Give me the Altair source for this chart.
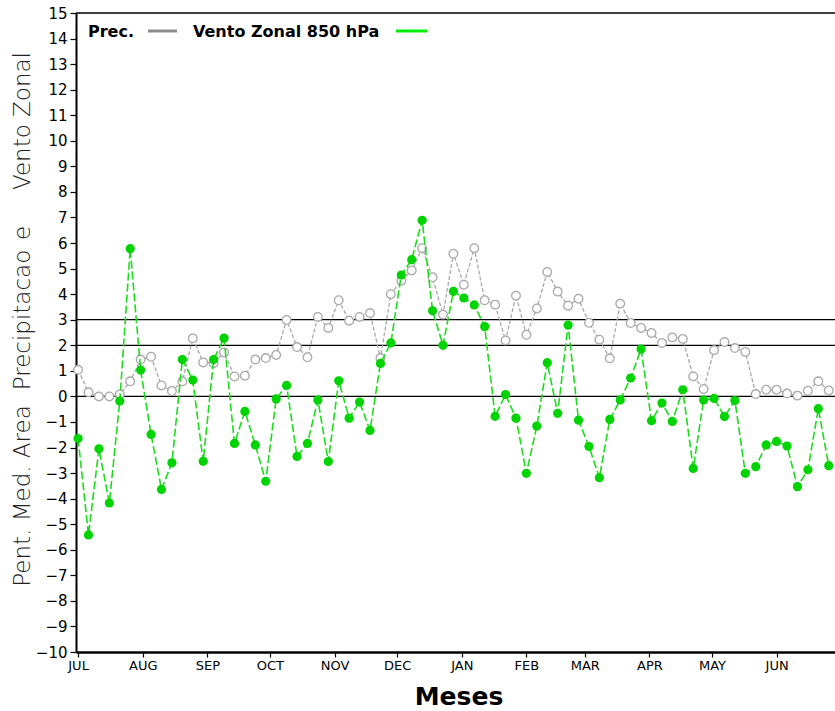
import altair as alt
import pandas as pd

# Pentad series (73 pentads, July to June)
prec = [1.04, 0.16, 0.00, 0.00, 0.08, 0.59, 1.44, 1.55, 0.43, 0.21,
        0.59, 2.27, 1.33, 1.30, 1.72, 0.78, 0.81, 1.44, 1.50, 1.62,
        2.99, 1.93, 1.53, 3.11, 2.68, 3.76, 2.96, 3.11, 3.26, 1.50,
        4.00, 4.53, 4.93, 5.80, 4.66, 3.20, 5.58, 4.37, 5.80, 3.76,
        3.59, 2.19, 3.94, 2.41, 3.44, 4.87, 4.10, 3.55, 3.82, 2.88,
        2.22, 1.49, 3.63, 2.87, 2.68, 2.48, 2.09, 2.31, 2.25, 0.78,
        0.29, 1.81, 2.13, 1.89, 1.74, 0.09, 0.26, 0.26, 0.11, 0.03,
        0.22, 0.59, 0.23]

vento = [-1.65, -5.42, -2.05, -4.17, -0.18, 5.78, 1.03, -1.49, -3.64, -2.60,
         1.44, 0.64, -2.54, 1.44, 2.28, -1.84, -0.59, -1.90, -3.32, -0.10,
         0.43, -2.35, -1.84, -0.14, -2.55, 0.61, -0.85, -0.22, -1.33, 1.29,
         2.09, 4.75, 5.35, 6.89, 3.35, 2.00, 4.11, 3.85, 3.58, 2.73,
         -0.78, 0.07, -0.85, -3.01, -1.16, 1.32, -0.66, 2.79, -0.93, -1.96,
         -3.18, -0.90, -0.14, 0.72, 1.85, -0.95, -0.26, -0.98, 0.26, -2.82,
         -0.14, -0.08, -0.79, -0.16, -3.01, -2.75, -1.90, -1.76, -1.94, -3.53,
         -2.87, -0.48, -2.71]

month_names = ["JUL", "AUG", "SEP", "OCT", "NOV", "DEC",
               "JAN", "FEB", "MAR", "APR", "MAY", "JUN"]
month_start_day = [0, 31, 62, 92, 123, 153, 184, 215, 243, 274, 304, 335]

ref_levels = [0, 2, 3]

# day of the year (from 1 July) at the start of each pentad
days = [5 * i for i in range(len(prec))]
df = pd.DataFrame({"day": days, "prec": prec, "vento": vento})
refs = pd.DataFrame({"v": ref_levels})

W, H = 759, 639
FONT = "DejaVu Sans"

xscale = alt.Scale(domain=[-1, 363], nice=False, zero=False)
yscale = alt.Scale(domain=[-10, 15], nice=False, zero=False)

label_expr = ("[" + ",".join(f"'{m}'" for m in month_names) + "][indexof(["
              + ",".join(str(d) for d in month_start_day) + "], datum.value)]")

xaxis = alt.Axis(values=month_start_day, labelExpr=label_expr, title=None,
                 grid=False, domainColor="black", domainWidth=2.5,
                 tickColor="black", tickSize=5, tickWidth=1.2,
                 labelFont=FONT, labelFontSize=13, labelColor="black",
                 labelPadding=2, labelFlush=False, labelOverlap=False)
yaxis = alt.Axis(values=list(range(-10, 16)), title=None, grid=False,
                 domainColor="black", domainWidth=2,
                 tickColor="black", tickSize=6, tickWidth=1.2,
                 labelFont=FONT, labelFontSize=15, labelColor="black",
                 labelPadding=3, labelOverlap=False,
                 labelExpr="replace(datum.label, '-', '\u2212')")

X = alt.X("day:Q", scale=xscale, axis=xaxis)

ref_rules = alt.Chart(refs).mark_rule(color="black", strokeWidth=1.2).encode(
    y=alt.Y("v:Q", scale=yscale, axis=yaxis)
)

base = alt.Chart(df)

prec_line = base.mark_line(color="#a9a9a9", strokeWidth=1.3,
                           strokeDash=[4, 2]).encode(
    x=X, y=alt.Y("prec:Q", scale=yscale, axis=yaxis))
prec_pts = base.mark_point(shape="circle", filled=True, fill="white",
                           stroke="#a9a9a9", strokeWidth=1.3, size=75,
                           opacity=1).encode(
    x=X, y=alt.Y("prec:Q", scale=yscale, axis=yaxis))

vento_line = base.mark_line(color="#1ddc1d", strokeWidth=1.6,
                            strokeDash=[8, 3]).encode(
    x=X, y=alt.Y("vento:Q", scale=yscale, axis=yaxis))
vento_pts = base.mark_circle(color="#00d400", size=85, opacity=1).encode(
    x=X, y=alt.Y("vento:Q", scale=yscale, axis=yaxis))

# frame top edge
top_edge = alt.Chart().mark_rule(color="black", strokeWidth=1.5).encode(
    x=alt.value(0), x2=alt.value(W), y=alt.value(0))

# legend
def label(txt, x, y, **kw):
    return alt.Chart().mark_text(font=FONT, fontWeight="bold", fontSize=16,
                                 align="left", baseline="alphabetic",
                                 color="black", **kw).encode(
        x=alt.value(x), y=alt.value(y), text=alt.value(txt))

leg = [
    label("Prec.", 12, 24),
    alt.Chart().mark_rule(color="#8c8c8c", strokeWidth=3).encode(
        x=alt.value(72), x2=alt.value(101), y=alt.value(18)),
    label("Vento Zonal 850 hPa", 117, 24),
    alt.Chart().mark_rule(color="#00ee00", strokeWidth=3).encode(
        x=alt.value(320), x2=alt.value(351), y=alt.value(18)),
]

# vertical axis title, word groups spread along the axis
def ytitle(txt, yc):
    return alt.Chart().mark_text(font=FONT, fontSize=23, fontWeight=300,
                                 angle=270, align="center", baseline="middle",
                                 color="#222222").encode(
        x=alt.value(-53), y=alt.value(yc), text=alt.value(txt))

ytitles = [
    ytitle("Vento Zonal", 108),
    ytitle("e", 220),
    ytitle("Precipitacao", 307),
    ytitle("Pent. Med. Area", 483),
]

xtitle = alt.Chart().mark_text(font=FONT, fontSize=25, fontWeight="bold",
                               align="center", baseline="alphabetic",
                               color="black").encode(
    x=alt.value(383), y=alt.value(692), text=alt.value("Meses"))

chart = alt.layer(
    ref_rules, prec_line, prec_pts, vento_line, vento_pts, top_edge,
    *leg, *ytitles, xtitle
).properties(
    width=W, height=H,
    autosize=alt.AutoSizeParams(type="none"),
    padding={"left": 76, "top": 13, "right": 0, "bottom": 59},
    background="white",
).configure_view(stroke=None)

chart.save("out.html", embed_options={"renderer": "svg", "actions": False})
